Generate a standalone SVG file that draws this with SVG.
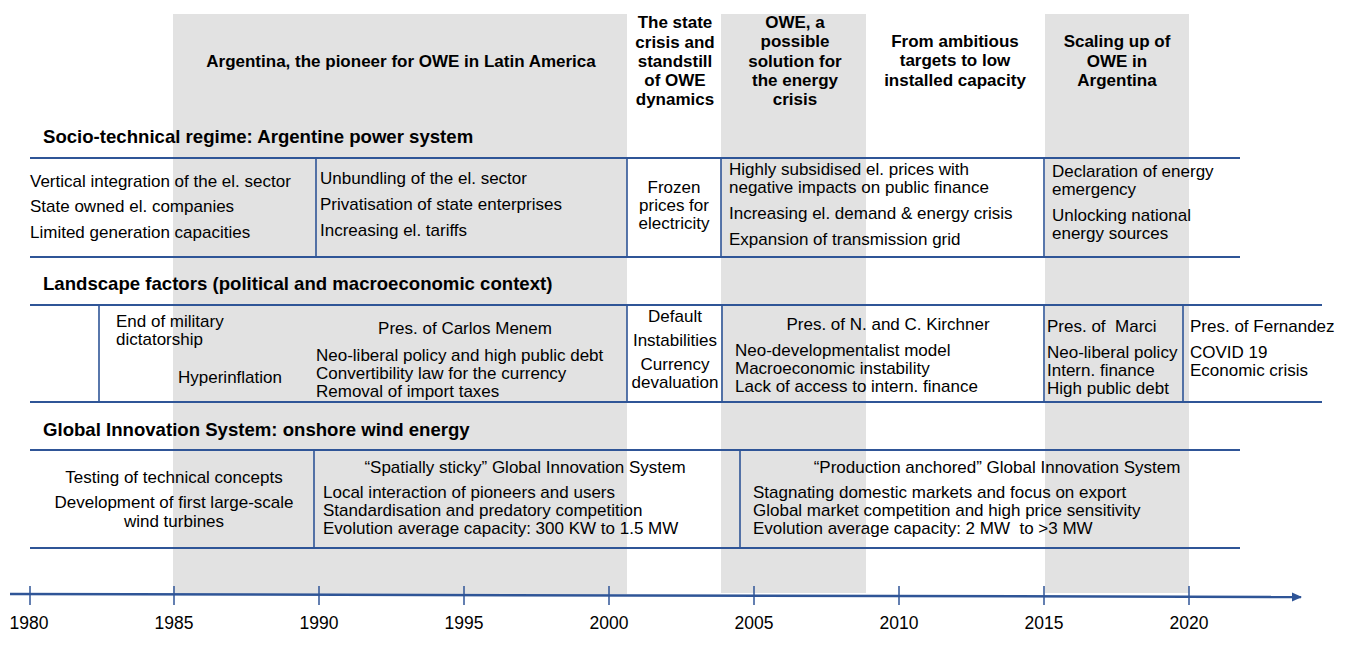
<svg xmlns="http://www.w3.org/2000/svg" width="1346" height="646" viewBox="0 0 1346 646">
<defs>
<style>
text{font-family:"Liberation Sans",Arial,sans-serif;fill:#000;font-size:17px}
.b{font-weight:bold}
.t{font-weight:bold;font-size:18.6px}
.c{text-anchor:middle}
.y{font-size:17.5px;text-anchor:middle}
.pre{white-space:pre}
.band{fill:#e2e2e2}
.h{stroke:#2f5597;stroke-width:2.2;fill:none}
.v{stroke:#2f5597;stroke-width:1.6;fill:none}
.tick{stroke:#2f5597;stroke-width:1.5}
</style>
<marker id="arr" markerWidth="10" markerHeight="10" refX="9" refY="5" orient="auto" markerUnits="userSpaceOnUse" viewBox="0 0 10 10">
<path d="M0,0.5 L10,5 L0,9.5 Z" fill="#2f5597"/>
</marker>
</defs>
<rect width="1346" height="646" fill="#fff"/>
<g id="bands">
<rect class="band" x="173" y="14" width="454" height="580"/>
<rect class="band" x="721" y="14" width="145" height="579"/>
<rect class="band" x="1045" y="14" width="144" height="579"/>
</g>
<g id="phase-headers">
<g id="phase1"><text class="b c" x="401" y="67">Argentina, the pioneer for OWE in Latin America</text></g>
<g id="phase2"><text class="b c" x="675" y="28">The state</text><text class="b c" x="675" y="48">crisis and</text><text class="b c" x="675" y="67">standstill</text><text class="b c" x="675" y="86">of OWE</text><text class="b c" x="675" y="105">dynamics</text></g>
<g id="phase3"><text class="b c" x="795" y="28">OWE, a</text><text class="b c" x="795" y="47">possible</text><text class="b c" x="795" y="67">solution for</text><text class="b c" x="795" y="86">the energy</text><text class="b c" x="795" y="105">crisis</text></g>
<g id="phase4"><text class="b c" x="955" y="47">From ambitious</text><text class="b c" x="955" y="66">targets to low</text><text class="b c" x="955" y="86">installed capacity</text></g>
<g id="phase5"><text class="b c" x="1117" y="47">Scaling up of</text><text class="b c" x="1117" y="67">OWE in</text><text class="b c" x="1117" y="86">Argentina</text></g>
</g>
<g id="section-titles">
<text class="t" x="43" y="143">Socio-technical regime: Argentine power system</text>
<text class="t" x="43" y="290">Landscape factors (political and macroeconomic context)</text>
<text class="t" x="43" y="436">Global Innovation System: onshore wind energy</text>
</g>
<g id="grid-lines">
<line class="h" x1="30" y1="158" x2="1240" y2="158"/>
<line class="h" x1="30" y1="257" x2="1240" y2="257"/>
<line class="v" x1="316" y1="158" x2="316" y2="257"/>
<line class="v" x1="627" y1="158" x2="627" y2="257"/>
<line class="v" x1="721" y1="158" x2="721" y2="257"/>
<line class="v" x1="1044" y1="158" x2="1044" y2="257"/>
<line class="h" x1="30" y1="305" x2="1322" y2="305"/>
<line class="h" x1="30" y1="402" x2="1322" y2="402"/>
<line class="v" x1="99" y1="305" x2="99" y2="402"/>
<line class="v" x1="627" y1="305" x2="627" y2="402"/>
<line class="v" x1="722" y1="305" x2="722" y2="402"/>
<line class="v" x1="1044" y1="305" x2="1044" y2="402"/>
<line class="v" x1="1183" y1="305" x2="1183" y2="402"/>
<line class="h" x1="30" y1="450" x2="1240" y2="450"/>
<line class="h" x1="30" y1="548" x2="1240" y2="548"/>
<line class="v" x1="314" y1="450" x2="314" y2="548"/>
<line class="v" x1="740" y1="450" x2="740" y2="548"/>
</g>
<g id="regime-1980s"><text x="30" y="187">Vertical integration of the el. sector</text><text x="30" y="212">State owned el. companies</text><text x="30" y="238">Limited generation capacities</text></g>
<g id="regime-1990s"><text x="320" y="184">Unbundling of the el. sector</text><text x="320" y="210">Privatisation of state enterprises</text><text x="320" y="236">Increasing el. tariffs</text></g>
<g id="regime-2000s"><text class="c" x="674" y="193">Frozen</text><text class="c" x="674" y="211">prices for</text><text class="c" x="674" y="229">electricity</text></g>
<g id="regime-2005s"><text x="729" y="175">Highly subsidised el. prices with</text><text x="729" y="193">negative impacts on public finance</text><text x="729" y="219">Increasing el. demand &amp; energy crisis</text><text x="729" y="245">Expansion of transmission grid</text></g>
<g id="regime-2015s"><text x="1052" y="177">Declaration of energy</text><text x="1052" y="195">emergency</text><text x="1052" y="221">Unlocking national</text><text x="1052" y="239">energy sources</text></g>
<g id="land-1983"><text x="116" y="327">End of military</text><text x="116" y="345">dictatorship</text><text class="c" x="230" y="383">Hyperinflation</text></g>
<g id="land-menem"><text class="c" x="465" y="334">Pres. of Carlos Menem</text><text x="316" y="361">Neo-liberal policy and high public debt</text><text x="316" y="379">Convertibility law for the currency</text><text x="316" y="397">Removal of import taxes</text></g>
<g id="land-2001"><text class="c" x="675" y="322">Default</text><text class="c" x="675" y="346">Instabilities</text><text class="c" x="675" y="370">Currency</text><text class="c" x="675" y="388">devaluation</text></g>
<g id="land-kirchner"><text class="c" x="888" y="330">Pres. of N. and C. Kirchner</text><text x="735" y="356">Neo-developmentalist model</text><text x="735" y="374">Macroeconomic instability</text><text x="735" y="392">Lack of access to intern. finance</text></g>
<g id="land-macri"><text class="pre" x="1047" y="332" xml:space="preserve">Pres. of  Marci</text><text x="1047" y="358">Neo-liberal policy</text><text x="1047" y="376">Intern. finance</text><text x="1047" y="394">High public debt</text></g>
<g id="land-fernandez"><text x="1190" y="332">Pres. of Fernandez</text><text x="1190" y="358">COVID 19</text><text x="1190" y="376">Economic crisis</text></g>
<g id="gis-early"><text class="c" x="174" y="483">Testing of technical concepts</text><text class="c" x="174" y="508">Development of first large-scale</text><text class="c" x="174" y="527">wind turbines</text></g>
<g id="gis-sticky"><text class="c" x="525" y="473">“Spatially sticky” Global Innovation System</text><text x="323" y="498">Local interaction of pioneers and users</text><text x="323" y="516">Standardisation and predatory competition</text><text x="323" y="534">Evolution average capacity: 300 KW to 1.5 MW</text></g>
<g id="gis-production"><text class="c" x="997" y="473">“Production anchored” Global Innovation System</text><text x="753" y="498">Stagnating domestic markets and focus on export</text><text x="753" y="516">Global market competition and high price sensitivity</text><text class="pre" x="753" y="534" xml:space="preserve">Evolution average capacity: 2 MW  to &gt;3 MW</text></g>
<g id="connectors">
<line x1="10" y1="594" x2="1301" y2="597" stroke="#2f5597" stroke-width="2.5" marker-end="url(#arr)"/>
<line class="tick" x1="30" y1="586" x2="30" y2="605"/>
<line class="tick" x1="174" y1="586" x2="174" y2="605"/>
<line class="tick" x1="319" y1="586" x2="319" y2="605"/>
<line class="tick" x1="464" y1="586" x2="464" y2="605"/>
<line class="tick" x1="609" y1="586" x2="609" y2="605"/>
<line class="tick" x1="754" y1="586" x2="754" y2="605"/>
<line class="tick" x1="899" y1="586" x2="899" y2="605"/>
<line class="tick" x1="1044" y1="586" x2="1044" y2="605"/>
<line class="tick" x1="1189" y1="586" x2="1189" y2="605"/>
</g>
<g id="years">
<text class="y" x="29" y="629">1980</text>
<text class="y" x="174" y="629">1985</text>
<text class="y" x="319" y="629">1990</text>
<text class="y" x="464" y="629">1995</text>
<text class="y" x="609" y="629">2000</text>
<text class="y" x="754" y="629">2005</text>
<text class="y" x="899" y="629">2010</text>
<text class="y" x="1044" y="629">2015</text>
<text class="y" x="1189" y="629">2020</text>
</g>
</svg>
